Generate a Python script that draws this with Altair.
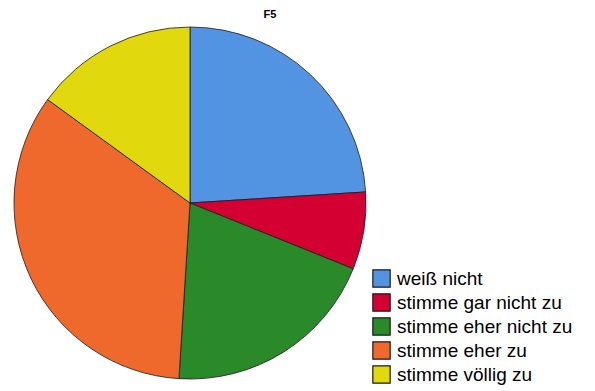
import altair as alt
import pandas as pd

title_text = "F5"
categories = ["weiß nicht", "stimme gar nicht zu", "stimme eher nicht zu", "stimme eher zu", "stimme völlig zu"]
values = [24.0, 7.1, 19.9, 34.0, 15.0]
colors = ["#5294E2", "#D50032", "#2A8A2A", "#F0692C", "#E2D80E"]

df = pd.DataFrame({"cat": categories, "val": values, "order": list(range(len(categories)))})

pie = alt.Chart(df).mark_arc(radius=176, stroke="#1a1a1a", strokeWidth=0.8).encode(
    theta=alt.Theta("val:Q", stack=True),
    order=alt.Order("order:Q"),
    x=alt.value(190),
    y=alt.value(203),
    color=alt.Color(
        "cat:N",
        sort=categories,
        scale=alt.Scale(domain=categories, range=colors),
        legend=alt.Legend(
            title=None,
            orient="none",
            legendX=372,
            legendY=269,
            symbolType="square",
            symbolSize=300,
            symbolStrokeColor="#1a1a1a",
            symbolStrokeWidth=1.2,
            symbolOpacity=1,
            labelFont="Liberation Sans",
            labelFontSize=19,
            labelColor="#000000",
            labelOffset=6,
            rowPadding=1,
            labelLimit=300,
        ),
    ),
)

title = alt.Chart(pd.DataFrame({"t": [title_text]})).mark_text(
    font="Liberation Sans", fontSize=11, fontWeight="bold", color="#000000", baseline="middle", align="center"
).encode(text="t:N", x=alt.value(270), y=alt.value(15))

chart = alt.layer(pie, title).properties(
    width=595, height=391, padding=0, autosize=alt.AutoSizeParams(type="none")
).configure_view(stroke=None)

chart.save("out.html", embed_options={"renderer": "svg", "actions": False})
